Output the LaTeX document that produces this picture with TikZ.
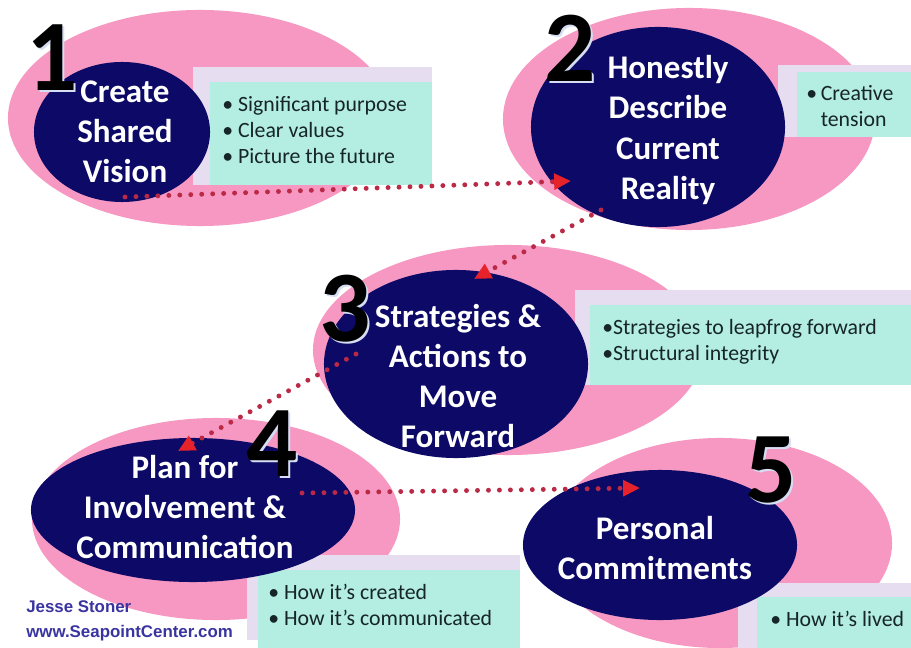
\documentclass[tikz,border=0pt]{standalone}
\usepackage{fontspec}
\setmainfont{Carlito}
\newfontfamily\webfont{Liberation Sans}
\usetikzlibrary{shapes.geometric,arrows.meta}

\definecolor{pinkbg}{RGB}{246,152,194}
\definecolor{navyblue}{RGB}{12,10,102}
\definecolor{lavender}{RGB}{231,221,240}
\definecolor{mint}{RGB}{180,237,226}
\definecolor{notetext}{RGB}{22,38,38}
\definecolor{dotred}{RGB}{186,42,70}
\definecolor{headred}{RGB}{232,34,42}
\definecolor{webblue}{RGB}{58,52,160}
\definecolor{rim}{RGB}{214,222,244}

\tikzset{
  navy/.style={ellipse, fill=navyblue, inner sep=0pt},
  title/.style={text=white, font=\bfseries\fontsize{23.5}{28.5}\selectfont, align=center, inner sep=0pt},
  notes/.style={font=\fontsize{15.5}{18.5}\selectfont, text=notetext, align=left, anchor=north west, inner sep=0pt},
  digit/.style={font=\bfseries\fontsize{72}{72}\selectfont, inner sep=0pt},
  digit rim/.style={digit, text=rim},
  web/.style={font=\webfont\bfseries\fontsize{12}{18.5}\selectfont, text=webblue, anchor=west, inner sep=0pt},
  flow/.style={draw=dotred, line width=3.5pt, line cap=round, dash pattern=on 0pt off 7.8pt,
    -{Triangle[length=12pt, width=11pt, color=headred]}},
}

\begin{document}
\begin{tikzpicture}[x=0.025cm, y=-0.025cm]
  \useasboundingbox (0,0) rectangle (911,648);
  \clip (0,0) rectangle (911,648);

  % 1 - shared vision
  \fill[pinkbg] (200,118) ellipse [x radius=4.8cm, y radius=2.7cm];
  \fill[lavender] (193,67) rectangle (432,185);
  \fill[mint] (210,82) rectangle (432,185);
  \node[navy, minimum width=4.4cm, minimum height=3.5cm] (vision) at (122,132) {};
  \node[title] (vision text) at (125,132) {Create\\Shared\\Vision};
  \node[notes] (vision notes) at (222,96) {\textbullet\ Significant purpose\\\textbullet\ Clear values\\\textbullet\ Picture the future};
  \node[digit rim] at (54,60) {1};
  \node[digit] (one) at (52,58) {1};

  % 2 - current reality
  \fill[pinkbg] (689,119) ellipse [x radius=4.65cm, y radius=2.775cm];
  \fill[lavender] (778,65) rectangle (911,137);
  \fill[mint] (797,72) rectangle (911,137);
  \node[navy, minimum width=6.35cm, minimum height=5cm] (reality) at (658,127) {};
  \node[title] (reality text) at (668,130) {Honestly\\Describe\\Current\\Reality};
  \node[notes] (reality notes) at (806,85) {\textbullet\,Creative\\\hphantom{\textbullet\,}tension};
  \node[digit rim] at (572,50) {2};
  \node[digit] (two) at (570,48) {2};

  % 3 - strategies
  \fill[pinkbg] (508,350) ellipse [x radius=4.875cm, y radius=2.625cm];
  \fill[lavender] (575,290) rectangle (911,385);
  \fill[mint] (590,305) rectangle (911,385);
  \node[navy, minimum width=6.6cm, minimum height=4.7cm] (actions) at (456,364) {};
  \node[title] (actions text) at (458,376) {Strategies \&\\Actions to\\Move\\Forward};
  \node[notes] (actions notes) at (602,319) {\textbullet Strategies to leapfrog forward\\\textbullet Structural integrity};
  \node[digit rim] at (347,311) {3};
  \node[digit] (three) at (345,309) {3};

  % 4 - involvement
  \fill[pinkbg] (216,519) ellipse [x radius=4.6cm, y radius=2.525cm];
  \fill[lavender] (247,555) rectangle (520,640);
  \fill[mint] (258,570) rectangle (520,648);
  \node[navy, minimum width=8.1cm, minimum height=3.6cm] (plan) at (193,510) {};
  \node[title] (plan text) at (185,507) {Plan for\\Involvement \&\\Communication};
  \node[notes] (plan notes) at (268,584) {\textbullet\ How it’s created\\\textbullet\ How it’s communicated};
  \node[digit rim] at (274,446) {4};
  \node[digit] (four) at (272,444) {4};

  % 5 - commitments
  \fill[pinkbg] (720,543) ellipse [x radius=4.3cm, y radius=2.625cm];
  \fill[lavender] (738,583) rectangle (911,648);
  \fill[mint] (757,597) rectangle (911,648);
  \node[navy, minimum width=6.85cm, minimum height=3.75cm] (commit) at (660,545) {};
  \node[title] (commit text) at (655,548) {Personal\\Commitments};
  \node[notes] (commit notes) at (770,611) {\textbullet\ How it’s lived};
  \node[digit rim] at (773,472) {5};
  \node[digit] (five) at (771,470) {5};

  % credit
  \node[web] (name) at (26,607) {Jesse Stoner};
  \node[web] (site) at (26,633) {www.SeapointCenter.com};

  % dotted flow between the steps
  \coordinate (from1) at (125,197);
  \coordinate (to2) at (571,181);
  \coordinate (from2) at (601,210);
  \coordinate (to3) at (474,279);
  \coordinate (from3) at (356,354);
  \coordinate (to4) at (178,451);
  \coordinate (from4) at (302,493);
  \coordinate (to5) at (640,488);
  \draw[flow] (from1) -- (to2);
  \draw[flow] (from2) -- (to3);
  \draw[flow] (from3) -- (to4);
  \draw[flow] (from4) -- (to5);
\end{tikzpicture}
\end{document}
